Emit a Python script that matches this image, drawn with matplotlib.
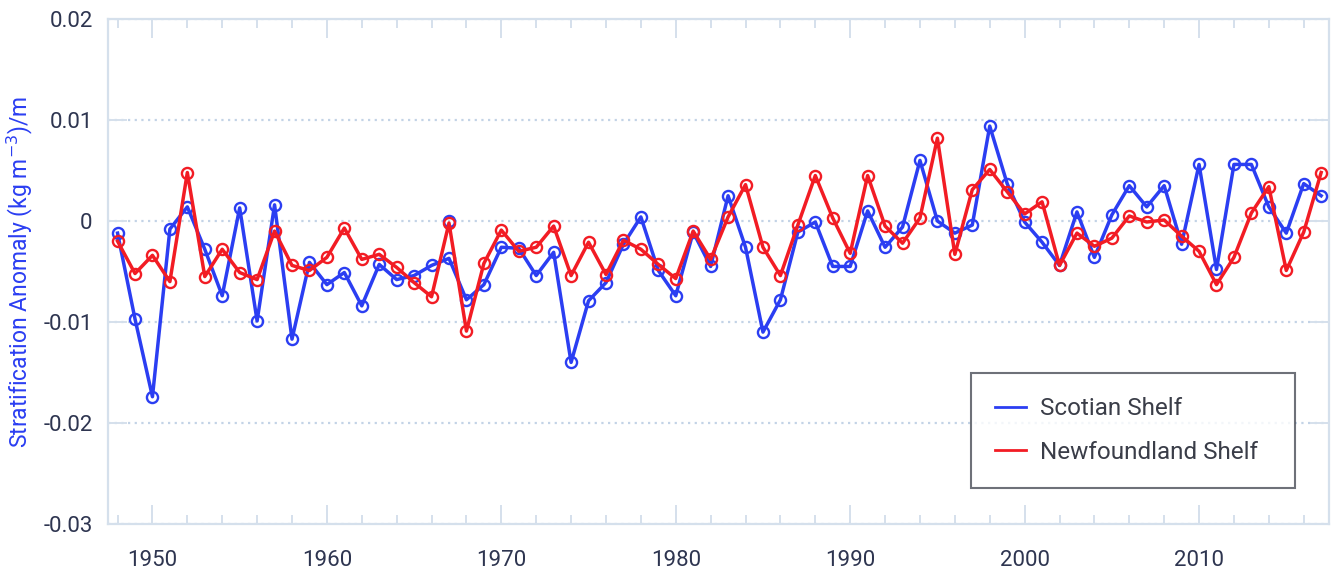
import matplotlib.pyplot as plt
from matplotlib.lines import Line2D
from matplotlib.ticker import MultipleLocator

plt.rcParams['font.family'] = ['Roboto', 'DejaVu Sans']

years = list(range(1948, 2018))

scotian = [
    -0.0012, -0.0097, -0.0174, -0.0008, 0.0014, -0.0028, -0.0074, 0.0013, -0.0099, 0.0016,
    -0.0117, -0.0041, -0.0063, -0.0051, -0.0084, -0.0043, -0.0058, -0.0054, -0.0044, -0.0037,
    -0.0078, -0.0063, -0.0026, -0.0027, -0.0054, -0.0031, -0.0140, -0.0079, -0.0061, -0.0023,
    0.0004, -0.0049, -0.0074, -0.0011, -0.0045, 0.0025, -0.0026, -0.0110, -0.0078, -0.0011,
    -0.0001, -0.0045, -0.0045, 0.0010, -0.0026, -0.0006, 0.0060, 0.0000, -0.0012, -0.0004,
    0.0094, 0.0037, -0.0001, -0.0021, -0.0044, 0.0009, -0.0036, 0.0006, 0.0035, 0.0014,
    0.0035, -0.0023, 0.0056, -0.0048, 0.0056, 0.0056, 0.0014, -0.0012, 0.0037, 0.0025,
]
# second Scotian Shelf value reported for 1967
scotian_extra_years = [1967]
scotian_extra = [0.0]

newfoundland = [
    -0.0020, -0.0052, -0.0034, -0.0060, 0.0048, -0.0055, -0.0028, -0.0051, -0.0058, -0.0010,
    -0.0044, -0.0049, -0.0036, -0.0007, -0.0038, -0.0033, -0.0046, -0.0061, -0.0075, -0.0002,
    -0.0109, -0.0042, -0.0009, -0.0030, -0.0026, -0.0005, -0.0054, -0.0021, -0.0053, -0.0019,
    -0.0028, -0.0043, -0.0057, -0.0010, -0.0038, 0.0004, 0.0036, -0.0026, -0.0054, -0.0004,
    0.0045, 0.0003, -0.0032, 0.0045, -0.0005, -0.0022, 0.0003, 0.0082, -0.0033, 0.0031,
    0.0051, 0.0029, 0.0007, 0.0019, -0.0044, -0.0012, -0.0025, -0.0017, 0.0005, -0.0001,
    0.0001, -0.0015, -0.0030, -0.0063, -0.0036, 0.0008, 0.0034, -0.0049, -0.0011, 0.0048,
]

y_ticks = [0.02, 0.01, 0.0, -0.01, -0.02, -0.03]
y_tick_labels = ['0.02', '0.01', '0', '-0.01', '-0.02', '-0.03']
x_ticks = [1950, 1960, 1970, 1980, 1990, 2000, 2010]

blue = '#2b3ef2'
red = '#f21c24'
axis_col = '#d5e0ec'
text_col = '#2e3550'

fig = plt.figure(figsize=(13.33, 5.69), dpi=100)
ax = fig.add_axes([0.081, 0.0791, 0.916, 0.8875])

marker_kw = dict(marker='o', markersize=8, markerfacecolor='none', markeredgewidth=1.7)
ax.plot(years, scotian, color=blue, lw=2.5, markeredgecolor=blue, zorder=3, **marker_kw)
ax.plot(scotian_extra_years, scotian_extra, ls='none', markeredgecolor=blue, zorder=3, **marker_kw)
ax.plot(years, newfoundland, color=red, lw=2.5, markeredgecolor=red, zorder=4, **marker_kw)

ax.set_xlim(1947.45, 2017.45)
ax.set_ylim(-0.03, 0.02)
ax.set_xticks(x_ticks)
ax.xaxis.set_minor_locator(MultipleLocator(2))
ax.set_yticks(y_ticks)
ax.set_yticklabels(y_tick_labels)

ax.grid(axis='y', color='#c3d3e6', linestyle=(0, (1, 2)), linewidth=1.6, zorder=1)

for sp in ax.spines.values():
    sp.set_color(axis_col)
    sp.set_linewidth(1.6)

ax.tick_params(which='both', direction='in', top=True, right=True, color=axis_col, width=1.4)
ax.tick_params(which='major', length=13.5)
ax.tick_params(which='minor', length=6.5)
ax.tick_params(axis='x', which='major', labelsize=16, labelcolor=text_col, pad=19)
ax.tick_params(axis='y', which='major', labelsize=16, labelcolor=text_col, pad=11)

ax.set_ylabel('Stratification Anomaly (kg m$^{-3}$)/m', color=blue, fontsize=16.5)
ax.yaxis.set_label_coords(-0.0595, 0.5)

handles = [Line2D([], [], color=blue, lw=2), Line2D([], [], color=red, lw=2)]
leg = ax.legend(handles, ['Scotian Shelf', 'Newfoundland Shelf'],
                loc='upper left', bbox_to_anchor=(0.7068, 0.299, 0.265, 0.0), mode='expand',
                fontsize=17.5, frameon=True, fancybox=False, borderpad=1.0,
                labelspacing=0.85, handlelength=1.25, handletextpad=0.6, borderaxespad=0)
leg.get_frame().set_edgecolor('#4a4d57')
leg.get_frame().set_linewidth(1.5)
for t in leg.get_texts():
    t.set_color('#3a3d48')

fig.savefig('out.png', dpi=100)
